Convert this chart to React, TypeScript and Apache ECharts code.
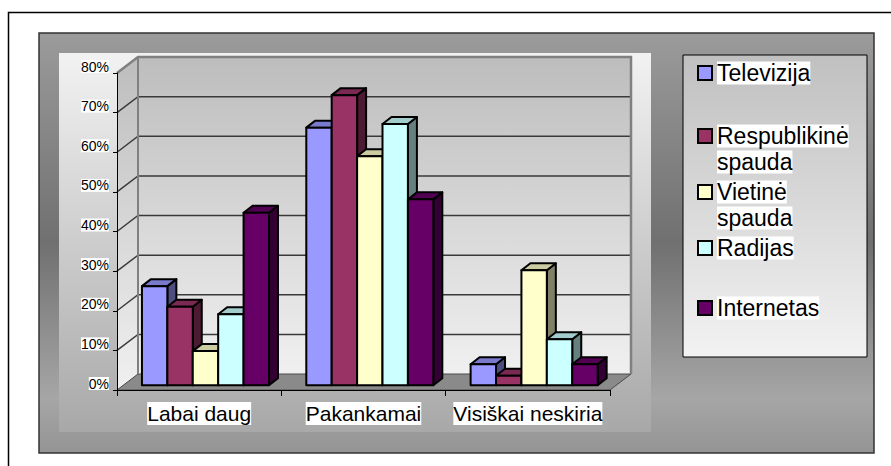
import React, { useEffect, useRef } from 'react';
import * as echarts from 'echarts';

const categories = ['Labai daug', 'Pakankamai', 'Visiškai neskiria'];
const seriesNames = ['Televizija', 'Respublikinė spauda', 'Vietinė spauda', 'Radijas', 'Internetas'];
const legendLines = [['Televizija'], ['Respublikinė', 'spauda'], ['Vietinė', 'spauda'], ['Radijas'], ['Internetas']];
const televizija = [0.25, 0.65, 0.053];
const respublikine = [0.198, 0.732, 0.024];
const vietine = [0.086, 0.578, 0.29];
const radijas = [0.179, 0.659, 0.116];
const internetas = [0.435, 0.469, 0.053];
const yTicks = [0, 0.1, 0.2, 0.3, 0.4, 0.5, 0.6, 0.7, 0.8];
const frontColors = ['#9999FF', '#993366', '#FFFFCC', '#CCFFFF', '#660066'];
const topColors = ['#7a7acc', '#7a2952', '#cccca3', '#a3cccc', '#520052'];
const sideColors = ['#4d4d80', '#4d1a33', '#808066', '#668080', '#330033'];
const legendIconY = [73, 136, 192, 248, 308];

const seriesData = [televizija, respublikine, vietine, radijas, internetas];
const FONT = '"Liberation Sans", Arial, Helvetica, sans-serif';
const WALL_DX = 21;
const WALL_DY = -16;
const BAR_POS = 0.3;
const BAR_DX = 9;
const BAR_DY = -7;
const GROUP_FRAC = 0.773;
const Y_MAX = 0.8;

const renderWalls = (params: any, api: any) => {
  const cs = params.coordSys;
  const x0 = cs.x;
  const x1 = cs.x + cs.width;
  const yb = api.coord([0, 0])[1];
  const yt = api.coord([0, Y_MAX])[1];
  const dx = WALL_DX;
  const dy = WALL_DY;
  const wallGrad = () =>
    new echarts.graphic.LinearGradient(0, 0, 0, 1, [
      { offset: 0, color: '#bdbdbd' },
      { offset: 1, color: '#f0f0f0' },
    ]);
  const children: any[] = [];
  children.push({
    type: 'polygon',
    shape: { points: [[x0, yt], [x0 + dx, yt + dy], [x0 + dx, yb + dy], [x0, yb]] },
    style: { fill: wallGrad() },
  });
  children.push({
    type: 'rect',
    shape: { x: x0 + dx, y: yt + dy, width: x1 - x0, height: yb - yt },
    style: { fill: wallGrad() },
  });
  children.push({
    type: 'polygon',
    shape: { points: [[x0, yb], [x1, yb], [x1 + dx, yb + dy], [x0 + dx, yb + dy]] },
    style: { fill: '#8a8a8a', stroke: '#4a4a4a', lineWidth: 1 },
  });
  yTicks.forEach((v) => {
    if (v <= 0 || v >= Y_MAX) return;
    const y = api.coord([0, v])[1];
    children.push({
      type: 'polyline',
      shape: { points: [[x0, y], [x0 + dx, y + dy], [x1 + dx, y + dy]] },
      style: { stroke: '#3a3a3a', lineWidth: 1.5, fill: 'none' },
    });
  });
  children.push({
    type: 'polyline',
    shape: { points: [[x0, yt], [x0 + dx, yt + dy], [x1 + dx, yt + dy], [x1 + dx, yb + dy]] },
    style: { stroke: '#808080', lineWidth: 2.5, fill: 'none' },
  });
  children.push({
    type: 'line',
    shape: { x1: x0 + dx, y1: yt + dy, x2: x0 + dx, y2: yb + dy },
    style: { stroke: '#808080', lineWidth: 2 },
  });
  return { type: 'group', children };
};

const makeBarRender = (k: number) => (params: any, api: any) => {
  const i = api.value(0);
  const v = api.value(1);
  const base = api.coord([i, 0]);
  const top = api.coord([i, v]);
  const band = api.size([1, 0])[0];
  const w = (band * GROUP_FRAC) / 5;
  const ox = WALL_DX * BAR_POS;
  const oy = WALL_DY * BAR_POS;
  const xl = base[0] + ox - 2.5 * w + k * w;
  const xr = xl + w;
  const yB = base[1] + oy;
  const yT = top[1] + oy;
  const line = { stroke: '#000', lineWidth: 2, lineJoin: 'round' };
  return {
    type: 'group',
    children: [
      {
        type: 'polygon',
        shape: { points: [[xr, yT], [xr + BAR_DX, yT + BAR_DY], [xr + BAR_DX, yB + BAR_DY], [xr, yB]] },
        style: { fill: sideColors[k], ...line },
      },
      {
        type: 'polygon',
        shape: { points: [[xl, yT], [xl + BAR_DX, yT + BAR_DY], [xr + BAR_DX, yT + BAR_DY], [xr, yT]] },
        style: { fill: topColors[k], ...line },
      },
      {
        type: 'rect',
        shape: { x: xl, y: yT, width: w, height: yB - yT },
        style: { fill: frontColors[k], ...line },
      },
    ],
  };
};

export default function App() {
  const ref = useRef<HTMLDivElement>(null);
  useEffect(() => {
    if (!ref.current) return;
    const chart = echarts.init(ref.current, undefined, { renderer: 'svg' });
    const lin = (stops: [number, string][]) => ({
      type: 'linear',
      x: 0,
      y: 0,
      x2: 0,
      y2: 1,
      colorStops: stops.map(([offset, color]) => ({ offset, color })),
    });
    const option: any = {
      animation: false,
      backgroundColor: '#ffffff',
      graphic: [
        {
          type: 'rect',
          z: -10,
          silent: true,
          shape: { x: 8.5, y: 12.5, width: 900, height: 500 },
          style: { fill: '#ffffff', stroke: '#000', lineWidth: 1.5 },
        },
        {
          type: 'rect',
          z: -9,
          silent: true,
          shape: { x: 39, y: 33, width: 835, height: 420 },
          style: {
            fill: lin([
              [0, '#9b9b9b'],
              [0.5, '#707070'],
              [0.87, '#a6a6a6'],
              [1, '#949494'],
            ]),
            stroke: '#333',
            lineWidth: 1.5,
          },
        },
        {
          type: 'rect',
          z: -8,
          silent: true,
          shape: { x: 59, y: 53, width: 592, height: 379 },
          style: { fill: lin([[0, '#f2f2f2'], [1, '#a8a8a8']]) },
        },
        {
          type: 'rect',
          z: -8,
          silent: true,
          shape: { x: 683, y: 55, width: 184, height: 302 },
          style: { fill: lin([[0, '#c0c0c0'], [1, '#f2f2f2']]), stroke: '#000', lineWidth: 1 },
        },
      ],
      grid: { left: 117, top: 73, width: 493, height: 317, containLabel: false },
      xAxis: {
        type: 'category',
        data: categories,
        boundaryGap: true,
        z: 5,
        axisLine: { show: true, lineStyle: { color: '#000', width: 1 } },
        axisTick: { show: true, length: 6, lineStyle: { color: '#000' } },
        axisLabel: {
          interval: 0,
          hideOverlap: false,
          fontSize: 21,
          fontFamily: FONT,
          color: '#000',
          backgroundColor: '#fff',
          margin: 12,
          lineHeight: 23,
        },
        splitLine: { show: false },
      },
      yAxis: {
        type: 'value',
        min: 0,
        max: Y_MAX,
        interval: 0.1,
        z: 5,
        axisLine: { show: true, lineStyle: { color: '#000', width: 1 } },
        axisTick: { show: true, length: 4, lineStyle: { color: '#000' } },
        splitLine: { show: false },
        axisLabel: {
          formatter: (v: number) => Math.round(v * 100) + '%',
          fontSize: 14,
          fontFamily: FONT,
          color: '#000',
          backgroundColor: '#fff',
          margin: 8,
          verticalAlign: 'bottom',
          lineHeight: 13,
        },
      },
      legend: seriesNames.map((name, k) => {
        const lines = legendLines[k];
        const multi = lines.length > 1;
        return {
          data: [name],
          orient: 'vertical',
          left: 697,
          top: legendIconY[k] - (multi ? 39 : 13),
          padding: 0,
          itemWidth: 14,
          itemHeight: 14,
          itemGap: 0,
          icon: 'rect',
          selectedMode: false,
          itemStyle: { borderColor: '#000', borderWidth: 2 },
          formatter: () => lines.map((s) => `{a|${s}}`).join('\n'),
          textStyle: {
            fontSize: 23,
            lineHeight: 26,
            fontFamily: FONT,
            color: '#000',
            padding: multi ? [26, 0, 0, 0] : 0,
            rich: {
              a: { fontSize: 23, lineHeight: 26, fontFamily: FONT, color: '#000', backgroundColor: '#fff' },
            },
          },
        };
      }),
      series: [
        {
          type: 'custom',
          name: 'walls',
          renderItem: renderWalls,
          data: [[0, 0]],
          z: 1,
          silent: true,
          clip: false,
        },
        ...seriesNames.map((name, k) => ({
          type: 'custom',
          name,
          renderItem: makeBarRender(k),
          data: seriesData[k].map((v, i) => [i, v]),
          encode: { x: 0, y: 1 },
          itemStyle: { color: frontColors[k] },
          z: 2,
          clip: false,
        })),
      ],
    };
    chart.setOption(option);
    return () => chart.dispose();
  }, []);
  return (
    <div
      ref={ref}
      style={{ position: 'absolute', left: 0, top: 0, width: 891, height: 466 }}
    />
  );
}
